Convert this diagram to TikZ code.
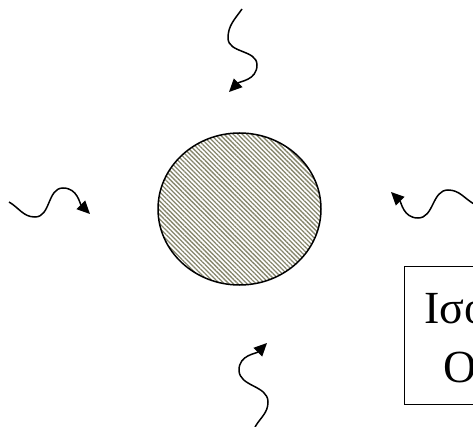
\documentclass[tikz,border=0pt]{standalone}
\usepackage{fontspec}
\setmainfont{Liberation Serif}
\usetikzlibrary{arrows.meta,patterns.meta,shapes.geometric}
\definecolor{cstripe}{HTML}{85856C}
\tikzset{
  body/.style={ellipse, draw, line width=1.5pt, minimum width=163pt, minimum height=152pt, inner sep=0pt,
    pattern={Lines[angle=-45, distance=3.2pt, line width=1.3pt]}, pattern color=cstripe},
  ray/.style={line width=1.5pt, -{Triangle[length=13pt, width=12pt]}},
  tag/.style={draw, line width=1.3pt, align=center, inner xsep=20pt, inner ysep=12pt,
    font=\fontsize{46}{59}\selectfont, anchor=north west},
}
\begin{document}
\begin{tikzpicture}[x=1pt,y=1pt]
\useasboundingbox (0,0) rectangle (473,426);
\clip (0,0) rectangle (473,426);
\node[body] (grain) at (239.5,217) {};
% photons coming in from four sides
\coordinate (t0) at (242,417); \coordinate (t1) at (228,388);
\coordinate (t2) at (257,361); \coordinate (t3) at (229,334);
\draw[ray] (t0) to[out=235,in=90] (t1) to[out=-90,in=90] (t2) to[out=-90,in=45] (t3);
\coordinate (l0) at (9,224); \coordinate (l1) at (35,209);
\coordinate (l2) at (63,238); \coordinate (l3) at (90,212);
\draw[ray] (l0) to[out=-30,in=180] (l1) to[out=0,in=180] (l2) to[out=0,in=135] (l3);
\coordinate (r0) at (474,222); \coordinate (r1) at (448,236);
\coordinate (r2) at (418,208); \coordinate (r3) at (391,234);
\draw[ray] (r0) to[out=150,in=0] (r1) to[out=180,in=0] (r2) to[out=180,in=-45] (r3);
\coordinate (b0) at (255,-1); \coordinate (b1) at (268,24);
\coordinate (b2) at (239,56); \coordinate (b3) at (267,83);
\draw[ray] (b0) to[out=60,in=-90] (b1) to[out=90,in=-90] (b2) to[out=90,in=-135] (b3);
% label box, cut by the page edge
\node[tag] (note) at (404,160) {\rule{0pt}{45pt}Ισοτροπική\\Ορίζοντα};
\end{tikzpicture}
\end{document}
